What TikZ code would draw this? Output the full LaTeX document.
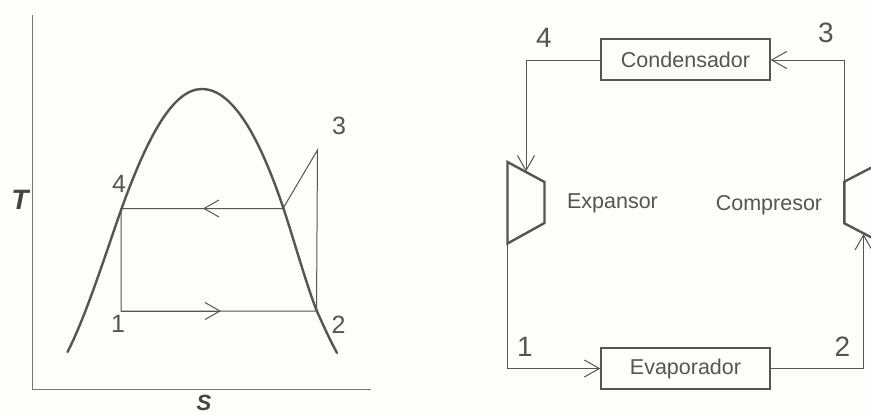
\documentclass[tikz,border=0pt]{standalone}
\usepackage{fontspec}
\setmainfont{Liberation Sans}
\usetikzlibrary{arrows.meta,calc}
\definecolor{ink}{HTML}{555555}
\definecolor{paper}{HTML}{FDFDFB}
\tikzset{
  thin line/.style={draw=ink,line width=1pt,line join=miter},
  axis line/.style={draw=ink!80,line width=0.8pt},
  heavy line/.style={draw=ink,line width=2.4pt,line join=miter,line cap=round},
  chev/.style={thin line,-{Straight Barb[length=15pt,width=17pt,line width=1pt]}},
  unitbox/.style={draw=ink,line width=1.3pt,minimum width=169pt,minimum height=41pt,inner sep=0pt,text=ink,font=\fontsize{21.5}{24}\selectfont},
  lbl/.style={text=ink,inner sep=0pt,font=\fontsize{21.5}{24}\selectfont},
  numl/.style={text=ink,inner sep=0pt,font=\fontsize{25}{28}\selectfont},
  numr/.style={text=ink,inner sep=0pt,font=\fontsize{28}{30}\selectfont},
  axlbl/.style={text=ink!80!black,inner sep=0pt,font=\itshape\bfseries},
}
\begin{document}
\begin{tikzpicture}[x=1pt,y=-1pt]
\useasboundingbox (0,0) rectangle (871,415);
\fill[paper] (0,0) rectangle (871,415);
\clip (0,0) rectangle (871,415);
% --- T-S diagram
\coordinate (axT) at (32.5,15);
\coordinate (axO) at (32.5,389.5);
\coordinate (axS) at (371,389.5);
\draw[axis line] (axT) -- (axO) -- (axS);
\node[axlbl,font=\fontsize{28}{30}\selectfont\itshape\bfseries] (labT) at (20,200) {T};
\node[axlbl,font=\fontsize{22}{24}\selectfont\itshape\bfseries] (labS) at (204,403) {S};
\draw[heavy line] (67.5,352) .. controls (85,318) and (103,262) .. (120,213)
  .. controls (146,140) and (172,89) .. (202,89)
  .. controls (235,89) and (262,145) .. (283,207)
  .. controls (294,240) and (305,280) .. (316,309)
  .. controls (323,325) and (330,340) .. (337,353);
\coordinate (p4) at (121,208.5);
\coordinate (p1) at (121,311);
\coordinate (p2) at (316.5,311);
\coordinate (p3) at (317.5,150);
\coordinate (pv) at (283,208.5);
\coordinate (mA) at (203,208.5);
\coordinate (mB) at (221,311);
\draw[thin line] (pv) -- (p3) -- (p2) -- (p1) -- (p4) -- (pv);
\draw[chev] (pv) -- (mA);
\draw[chev] (p1) -- (mB);
\node[numl] (n3l) at (339,126) {3};
\node[numl] (n4l) at (119,183.5) {4};
\node[numl] (n1l) at (118,324) {1};
\node[numl] (n2l) at (338.5,325) {2};
% --- Plant diagram
\node[unitbox] (cond) at (685.5,59.5) {Condensador};
\node[unitbox] (evap) at (685.5,368.5) {Evaporador};
\coordinate (e1) at (507.5,162);
\coordinate (e2) at (544.5,182);
\coordinate (e3) at (544.5,223);
\coordinate (e4) at (507.5,243.5);
\draw[heavy line] (e1) -- (e2) -- (e3) -- (e4) -- cycle;
\coordinate (c1) at (844.3,181.7);
\coordinate (c2) at (844.3,223.3);
\coordinate (c3) at (884,244);
\coordinate (c4) at (884,161);
\draw[heavy line] (c4) -- (c1) -- (c2) -- (c3);
\coordinate (k4) at (526,60);
\coordinate (e5) at (526,171.5);
\coordinate (k3) at (844.3,60);
\coordinate (k1) at (507.5,368.5);
\coordinate (k2) at (863.5,368.5);
\coordinate (c5) at (863.5,234);
\draw[chev] (cond.west |- k4) -- (k4) -- (e5);
\draw[chev] (c1) -- (k3) -- (cond.east |- k3);
\draw[chev] (e4) -- (k1) -- (evap.west |- k1);
\draw[chev] (evap.east |- k2) -- (k2) -- (c5);
\node[lbl] (lexp) at (612.5,203) {Expansor};
\node[lbl] (lcom) at (769,205) {Compresor};
\node[numr] (n4r) at (544,38) {4};
\node[numr] (n3r) at (826,33) {3};
\node[numr] (n1r) at (525,347) {1};
\node[numr] (n2r) at (842.5,347) {2};
\end{tikzpicture}
\end{document}
